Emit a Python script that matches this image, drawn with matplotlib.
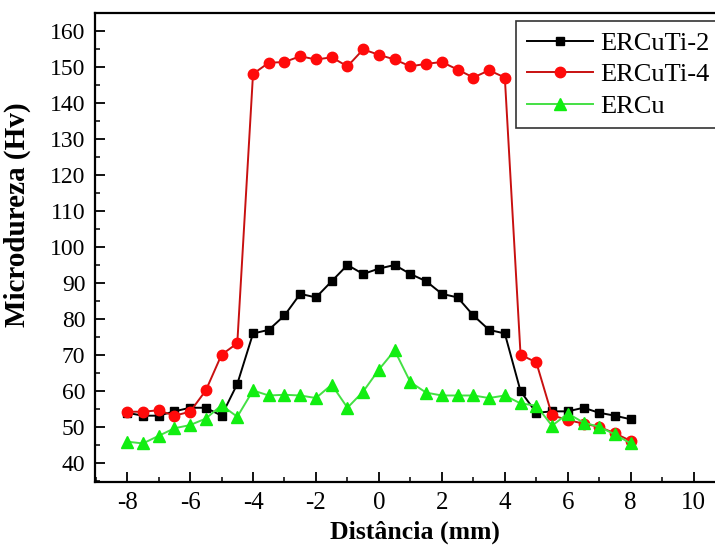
import matplotlib
matplotlib.use("Agg")
import matplotlib.pyplot as plt
from matplotlib.ticker import MultipleLocator

plt.rcParams["font.family"] = ["Liberation Serif", "DejaVu Serif"]
plt.rcParams["axes.unicode_minus"] = False

# ===== Data =====
dist = [-8, -7.5, -7, -6.5, -6, -5.5, -5, -4.5, -4, -3.5, -3, -2.5, -2, -1.5, -1, -0.5,
        0, 0.5, 1, 1.5, 2, 2.5, 3, 3.5, 4, 4.5, 5, 5.5, 6, 6.5, 7, 7.5, 8]

ercuti2 = [54, 53.2, 53.2, 54.4, 55.4, 55.4, 53.2, 62, 76, 77, 81, 87, 86, 90.5, 95, 92.5,
           94, 95, 92.5, 90.5, 87, 86, 81, 77, 76, 60, 54, 54.4, 54.4, 55.4, 54, 53.2, 52.2]

ercuti4 = [54.3, 54.3, 54.7, 53.2, 54.3, 60.2, 70.1, 73.3, 148, 151.1, 151.3, 152.9, 152, 152.6, 150.1, 154.8,
           153.3, 152, 150.1, 150.8, 151.3, 149.2, 147, 149, 147, 70.1, 68, 53.3, 52, 51, 50.1, 48.3, 46.2]

ercu = [46, 45.5, 47.6, 49.7, 50.6, 52.4, 56.1, 52.9, 60.2, 58.8, 59, 58.8, 58.1, 61.8, 55.4, 59.9,
        66, 71.3, 62.5, 59.6, 58.8, 58.8, 58.8, 58.1, 58.8, 56.6, 56, 50.4, 53.8, 51.3, 50.1, 48, 45.5]

# ===== Plot =====
fig = plt.figure(figsize=(7.15, 5.48), dpi=100)
# right spine sits just outside the picture, as in the original crop
ax = fig.add_axes([0.1329, 0.1204, 0.876, 0.8559])

ax.plot(dist, ercuti2, color="black", marker="s", markersize=6, linewidth=1.4, label="ERCuTi-2")
ax.plot(dist, ercuti4, color="#c81010", marker="o", markersize=7.5, markerfacecolor="#ff0a0a",
        markeredgecolor="#ff0a0a", linewidth=1.4, label="ERCuTi-4")
ax.plot(dist, ercu, color="#44e044", marker="^", markersize=8, markerfacecolor="#11ee11",
        markeredgecolor="#11ee11", linewidth=1.4, label="ERCu")

ax.set_xlim(-9.02, 10.88)
ax.set_ylim(34.8, 164.9)
ax.xaxis.set_major_locator(MultipleLocator(2))
ax.xaxis.set_minor_locator(MultipleLocator(1))
ax.yaxis.set_major_locator(MultipleLocator(10))
ax.yaxis.set_minor_locator(MultipleLocator(5))
ax.tick_params(which="major", direction="in", length=7, width=1.3)
ax.tick_params(which="minor", direction="in", length=3.5, width=1.1)
ax.tick_params(axis="x", which="major", labelsize=18, pad=7)
ax.tick_params(axis="y", which="major", labelsize=17, pad=7)
ax.tick_params(top=False, right=False)
for sp in ax.spines.values():
    sp.set_linewidth(1.6)

ax.set_xlabel("Distância (mm)", fontsize=18.5, fontweight="bold")
ax.set_ylabel("Microdureza (Hv)", fontsize=21, fontweight="bold")
ax.xaxis.set_label_coords(0.511, -0.082)
ax.yaxis.set_label_coords(-0.103, 0.569)

leg = ax.legend(loc="upper left", bbox_to_anchor=(516 / 715, 1 - 21 / 548),
                bbox_transform=fig.transFigure, borderaxespad=0,
                fontsize=19, frameon=True, fancybox=False, edgecolor="black",
                handlelength=2.5, handletextpad=0.3, labelspacing=0.3, borderpad=0.4)
leg.get_frame().set_linewidth(1.2)

fig.savefig("out.png", dpi=100)
